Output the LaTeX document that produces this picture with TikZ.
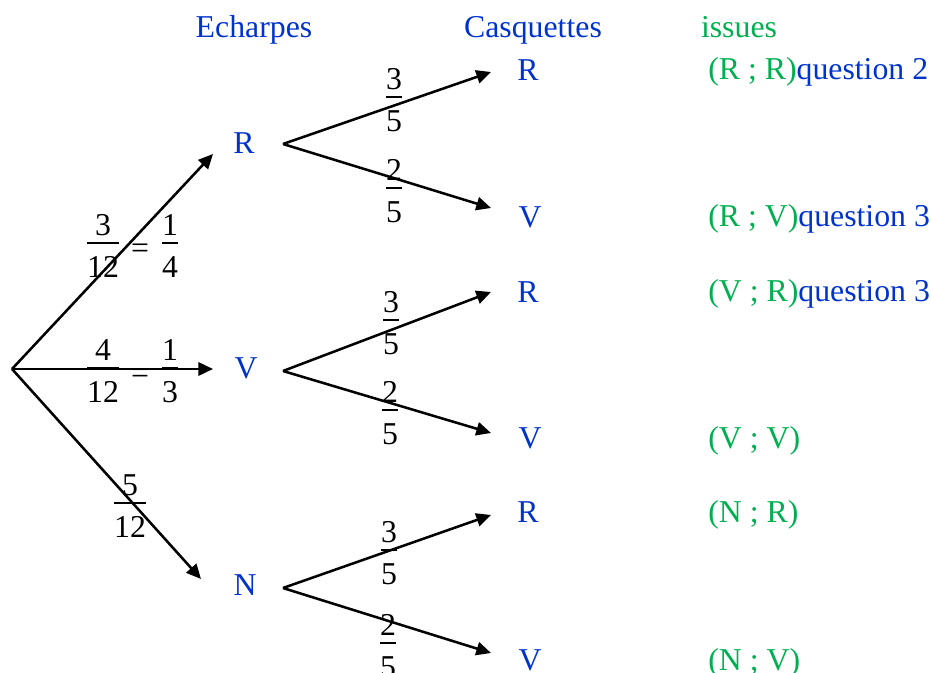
\documentclass[tikz,border=0pt]{standalone}
\usepackage{fontspec}
\setmainfont{Liberation Serif}
\usetikzlibrary{arrows.meta}
\definecolor{tblue}{RGB}{0,51,204}
\definecolor{tgreen}{RGB}{0,176,80}
\newcommand\myfr[2]{$\displaystyle{\raisebox{-5pt}{#1}\above 1.5pt\raisebox{-3pt}{#2}}$}
\begin{document}
\begin{tikzpicture}[x=0.75pt,y=-0.75pt, font=\fontsize{23.85}{28}\selectfont,
  lbl/.style={text=tblue, inner sep=0},
  hdr/.style={inner sep=0, anchor=base},
  iss/.style={inner sep=0, anchor=base west},
  arr/.style={line width=1.9pt, -{Triangle[length=11pt,width=10pt]}},
  fr/.style={inner sep=0, anchor=base}]
\useasboundingbox (0,0) rectangle (931,673);

% headers
\node[hdr, text=tblue] (hE) at (254,38) {Echarpes};
\node[hdr, text=tblue] (hC) at (533,38) {Casquettes};
\node[hdr, text=tgreen] (hI) at (739,38) {issues};

% level 1
\coordinate (O) at (12,369);
\node[lbl] (R1) at (244,143) {R};
\node[lbl] (V1) at (246,368) {V};
\node[lbl] (N1) at (245,585) {N};
\coordinate (tR1) at (213,154);
\coordinate (tV1) at (213,369);
\coordinate (tN1) at (201,579);
\draw[arr] (O) -- (tR1);
\draw[arr] (O) -- (tV1);
\draw[arr] (O) -- (tN1);

% level 2 labels
\node[lbl] (RR) at (528,70) {R};
\node[lbl] (RV) at (530,217) {V};
\node[lbl] (VR) at (528,292) {R};
\node[lbl] (VV) at (530,438) {V};
\node[lbl] (NR) at (528,512) {R};
\node[lbl] (NV) at (530,660) {V};

% branch points and tips
\coordinate (bR) at (283,144);
\coordinate (bV) at (283,371);
\coordinate (bN) at (283,588);
\coordinate (tRR) at (491,72);
\coordinate (tRV) at (491,208);
\coordinate (tVR) at (491,292);
\coordinate (tVV) at (491,433);
\coordinate (tNR) at (491,515);
\coordinate (tNV) at (491,653);
\draw[arr] (bR) -- (tRR);
\draw[arr] (bR) -- (tRV);
\draw[arr] (bV) -- (tVR);
\draw[arr] (bV) -- (tVV);
\draw[arr] (bN) -- (tNR);
\draw[arr] (bN) -- (tNV);

% fractions level 1 (baseline = bar + 8)
\node[fr] (f1a) at (103,251) {\myfr{3}{12}};
\node[inner sep=0] (e1) at (140,251) {=};
\node[fr] (f1b) at (170,251) {\myfr{1}{4}};
\node[fr] (f2a) at (103,376) {\myfr{4}{12}};
\node[inner sep=0] (e2) at (140,376) {=};
\node[fr] (f2b) at (170,376) {\myfr{1}{3}};
\node[fr] (f3) at (130,511) {\myfr{5}{12}};

% fractions level 2
\node[fr] (g1) at (394,105) {\myfr{3}{5}};
\node[fr] (g2) at (394,196) {\myfr{2}{5}};
\node[fr] (g3) at (391,328) {\myfr{3}{5}};
\node[fr] (g4) at (390,418) {\myfr{2}{5}};
\node[fr] (g5) at (389,558) {\myfr{3}{5}};
\node[fr] (g6) at (388,651) {\myfr{2}{5}};

% issues
\node[iss] (i1) at (708,80) {\textcolor{tgreen}{(R ; R)}\textcolor{tblue}{question 2}};
\node[iss] (i2) at (708,227) {\textcolor{tgreen}{(R ; V)}\textcolor{tblue}{question 3}};
\node[iss] (i3) at (708,302) {\textcolor{tgreen}{(V ; R)}\textcolor{tblue}{question 3}};
\node[iss, text=tgreen] (i4) at (708,448) {(V ; V)};
\node[iss, text=tgreen] (i5) at (708,522) {(N ; R)};
\node[iss, text=tgreen] (i6) at (708,670) {(N ; V)};
\end{tikzpicture}
\end{document}
